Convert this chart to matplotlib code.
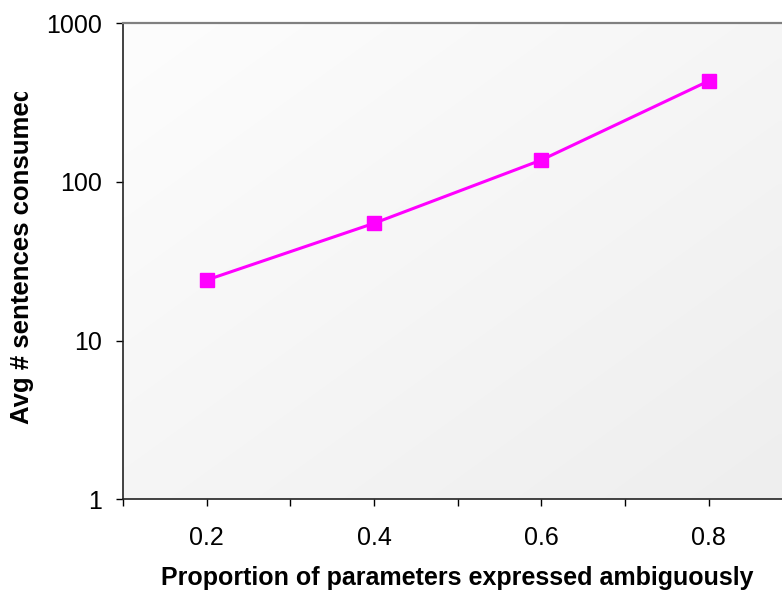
import matplotlib
matplotlib.use("Agg")
import matplotlib.pyplot as plt
import numpy as np
from matplotlib.transforms import Bbox

x_values = [0.2, 0.4, 0.6, 0.8]
y_values = [24.1, 54.9, 137.5, 433]
x_tick_labels = ["0.2", "0.4", "0.6", "0.8"]
y_ticks = [1, 10, 100, 1000]
y_tick_labels = ["1", "10", "100", "1000"]

plt.rcParams['font.family'] = ['Liberation Sans', 'DejaVu Sans']

W, H = 782, 593
fig = plt.figure(figsize=(W / 100, H / 100), dpi=100)
ax = fig.add_axes([123 / W, (H - 499.3) / H, (W - 123) / W, (499.3 - 23.3) / H])

# gradient background
yy, xx = np.mgrid[0:1:100j, 0:1:100j]
grad = (xx + yy) / 2.0
cmap = matplotlib.colors.LinearSegmentedColormap.from_list("g", ["#fdfdfd", "#eeeeee"])
ax.imshow(grad, extent=[0, 1, 0, 1], transform=ax.transAxes, cmap=cmap,
          aspect='auto', zorder=0, interpolation='bilinear')

ax.plot(x_values, y_values, color='#ff00ff', lw=2.2, marker='s', markersize=10.3,
        markeredgecolor='#ff00ff', zorder=3)

ax.set_yscale('log')
ax.set_yticks(y_ticks)
ax.set_yticklabels(y_tick_labels)
ax.yaxis.set_minor_locator(matplotlib.ticker.NullLocator())
ax.set_xticks(x_values)
ax.set_xticklabels(x_tick_labels)
ax.set_xticks(np.arange(0.1, 0.95, 0.2), minor=True)
ax.set_ylim(1, 1000)
ax.set_xlim(0.1, 0.1 + 659 / 836.7)

ax.tick_params(axis='both', which='both', direction='out', length=5, width=1, color='black',
               labelsize=18)
ax.tick_params(axis='y', pad=10)
ax.tick_params(axis='x', pad=14)

ax.spines['right'].set_visible(False)
ax.spines['top'].set_color('#808080')
ax.spines['top'].set_linewidth(1.6)
ax.spines['left'].set_color('#222222')
ax.spines['bottom'].set_color('#222222')
ax.spines['left'].set_linewidth(1.2)
ax.spines['bottom'].set_linewidth(1.2)

fig.text(457 / W, 1 - 578 / H, "Proportion of parameters expressed ambiguously",
         ha='center', va='center', fontsize=18, fontweight='bold')

t = fig.text(22 / W, 1 - 424 / H, "Avg # sentences consumed", rotation=90,
             ha='center', va='bottom', fontsize=18.5, fontweight='bold')
t.set_clip_box(Bbox.from_extents(0, 0, W, H - 92))
t.set_clip_on(True)

fig.savefig("out.png", dpi=100)
